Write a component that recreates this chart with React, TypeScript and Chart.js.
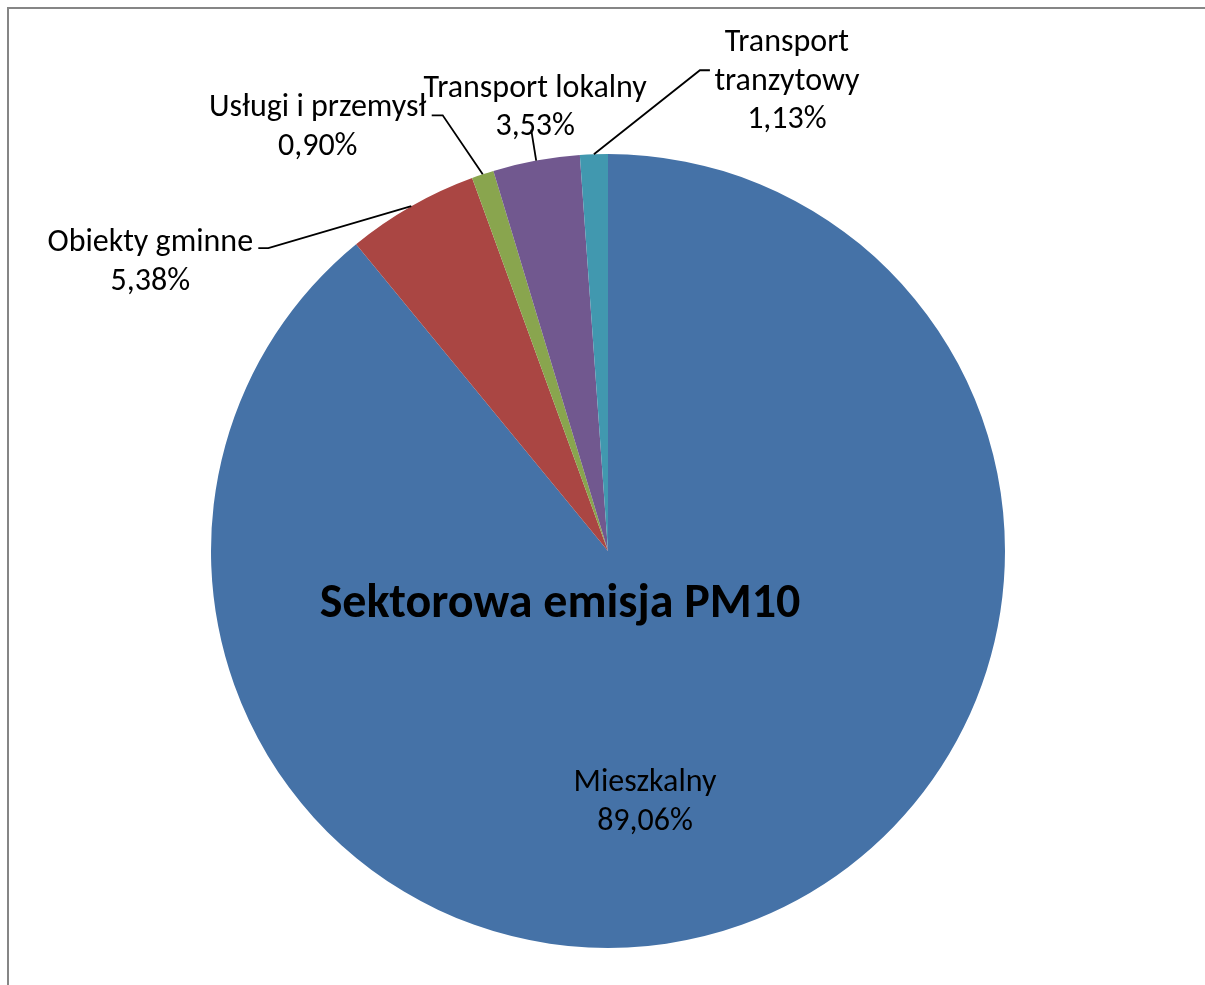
import React, { useEffect, useRef } from "react";
import { Chart, registerables } from "chart.js";

Chart.register(...registerables);

const categories = [
  "Mieszkalny",
  "Obiekty gminne",
  "Usługi i przemysł",
  "Transport lokalny",
  "Transport tranzytowy",
];
const shares = [89.06, 5.38, 0.9, 3.53, 1.13];
const nameLines = [
  ["Mieszkalny"],
  ["Obiekty gminne"],
  ["Usługi i przemysł"],
  ["Transport lokalny"],
  ["Transport", "tranzytowy"],
];
const sliceColors = ["#4572A7", "#AA4643", "#89A54E", "#71588F", "#4198AF"];
const chartTitle = "Sektorowa emisja PM10";

// label placement relative to the slice's outer mid-point (outside) or pie centre (inside)
const labelLayout: any[] = [
  { inside: true, dx: 37, dy: 232 },
  { dx: -261, dy: 37, path: [[-143, 42], [-153, 42]] },
  { dx: -165, dy: -66, path: [[-40, -59], [-51, -59]] },
  { dx: -1, dy: -72, path: [[-5, -31]] },
  { dx: 193, dy: -111, path: [[106, -84], [116, -84]] },
];

const FONT = "Calibri, Carlito, Lato, 'Open Sans', sans-serif";
const LINE_H = 38.5;

const labelPlugin = {
  id: "pieLabels",
  afterDatasetsDraw(chart: any) {
    const ctx = chart.ctx;
    const meta = chart.getDatasetMeta(0);
    const arcs = meta.data;
    if (!arcs.length) return;
    const cx = arcs[0].x;
    const cy = arcs[0].y;
    ctx.save();
    // title over the pie
    ctx.fillStyle = "#000";
    ctx.font = `bold 48px ${FONT}`;
    ctx.textAlign = "center";
    ctx.textBaseline = "middle";
    ctx.fillText(chartTitle, cx - 48, cy + 54);

    ctx.font = `32px ${FONT}`;
    arcs.forEach((arc: any, i: number) => {
      const lay = labelLayout[i];
      const mid = (arc.startAngle + arc.endAngle) / 2;
      const ax = arc.x + arc.outerRadius * Math.cos(mid);
      const ay = arc.y + arc.outerRadius * Math.sin(mid);
      const lines = [
        ...nameLines[i],
        shares[i].toFixed(2).replace(".", ",") + "%",
      ];
      let bx: number, by: number;
      if (lay.inside) {
        bx = cx + lay.dx;
        by = cy + lay.dy;
      } else {
        bx = ax + lay.dx;
        by = ay + lay.dy;
        ctx.strokeStyle = "#000";
        ctx.lineWidth = 1.8;
        ctx.beginPath();
        ctx.moveTo(ax, ay);
        lay.path.forEach((p: number[]) => ctx.lineTo(ax + p[0], ay + p[1]));
        ctx.stroke();
      }
      ctx.fillStyle = "#000";
      lines.forEach((t, k) => ctx.fillText(t, bx, by + k * LINE_H));
    });
    ctx.restore();
  },
};

export default function App() {
  const ref = useRef<HTMLCanvasElement>(null);
  useEffect(() => {
    const chart = new Chart(ref.current!, {
      type: "pie",
      data: {
        labels: categories,
        datasets: [
          {
            data: shares,
            backgroundColor: sliceColors,
            borderWidth: 0,
          },
        ],
      },
      options: {
        responsive: false,
        animation: false,
        layout: { padding: { left: 202, right: 200, top: 145, bottom: 37 } },
        plugins: {
          legend: { display: false },
          tooltip: { enabled: false },
          title: { display: false },
        },
      },
      plugins: [labelPlugin],
    });
    return () => chart.destroy();
  }, []);
  return (
    <div
      style={{
        position: "fixed",
        left: 7,
        top: 7,
        width: 1198,
        height: 978,
        boxSizing: "border-box",
        borderLeft: "2px solid #868686",
        borderTop: "2px solid #868686",
        background: "#fff",
      }}
    >
      <canvas ref={ref} width={1196} height={976} style={{ display: "block" }} />
    </div>
  );
}
